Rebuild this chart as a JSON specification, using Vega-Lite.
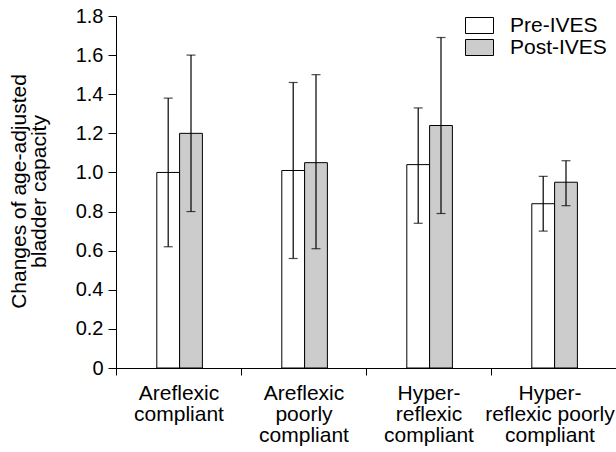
{
  "$schema": "https://vega.github.io/schema/vega-lite/v6.json",
  "width": 500,
  "height": 352,
  "autosize": {"type": "none"},
  "padding": {"left": 116, "top": 16, "right": 0, "bottom": 84},
  "background": "white",
  "config": {
    "view": {"stroke": null},
    "font": "Liberation Sans",
    "axis": {"domainColor": "black", "tickColor": "black", "labelColor": "black", "titleColor": "black", "grid": false}
  },
  "data": {
    "values": [
      {"group": "Areflexic|compliant", "phase": "Pre-IVES", "mean": 1.00, "lo": 0.62, "hi": 1.38},
      {"group": "Areflexic|compliant", "phase": "Post-IVES", "mean": 1.20, "lo": 0.80, "hi": 1.60},
      {"group": "Areflexic|poorly|compliant", "phase": "Pre-IVES", "mean": 1.01, "lo": 0.56, "hi": 1.46},
      {"group": "Areflexic|poorly|compliant", "phase": "Post-IVES", "mean": 1.05, "lo": 0.61, "hi": 1.50},
      {"group": "Hyper-|reflexic|compliant", "phase": "Pre-IVES", "mean": 1.04, "lo": 0.74, "hi": 1.33},
      {"group": "Hyper-|reflexic|compliant", "phase": "Post-IVES", "mean": 1.24, "lo": 0.79, "hi": 1.69},
      {"group": "Hyper-|reflexic poorly|compliant", "phase": "Pre-IVES", "mean": 0.84, "lo": 0.70, "hi": 0.98},
      {"group": "Hyper-|reflexic poorly|compliant", "phase": "Post-IVES", "mean": 0.95, "lo": 0.83, "hi": 1.06}
    ]
  },
  "encoding": {
    "x": {
      "field": "group", "type": "nominal", "sort": null,
      "scale": {"paddingInner": 0, "paddingOuter": 0},
      "axis": {
        "title": null, "labelAngle": 0, "labelExpr": "split(datum.label, '|')",
        "labelFontSize": 21, "labelLineHeight": 21, "labelPadding": 7,
        "labelOffset": {"condition": {"test": "datum.value == 'Hyper-|reflexic poorly|compliant'", "value": -4}, "value": 0},
        "tickBand": "extent", "tickSize": 7, "labelOverlap": false, "labelBound": false,
        "labelBaseline": "top"
      }
    },
    "xOffset": {
      "field": "phase", "type": "nominal", "sort": ["Pre-IVES", "Post-IVES"],
      "scale": {"paddingInner": 0, "paddingOuter": 0, "range": [40.8, 86.4]}
    }
  },
  "layer": [
    {
      "mark": {"type": "bar", "stroke": "black", "strokeWidth": 1},
      "encoding": {
        "y": {
          "field": "mean", "type": "quantitative",
          "scale": {"domain": [0, 1.8], "nice": false},
          "axis": {
            "title": ["Changes of age-adjusted", "bladder capacity"],
            "titleFontSize": 21, "titleFontWeight": "normal", "titleLineHeight": 20,
            "titlePadding": 26, "titleY": 175,
            "values": [0, 0.2, 0.4, 0.6, 0.8, 1.0, 1.2, 1.4, 1.6, 1.8],
            "labelExpr": "datum.value === 0 ? '0' : format(datum.value, '.1f')",
            "labelFontSize": 20, "tickSize": 8, "labelPadding": 5, "labelOverlap": false
          }
        },
        "fill": {
          "field": "phase", "type": "nominal",
          "scale": {"domain": ["Pre-IVES", "Post-IVES"], "range": ["#ffffff", "#cccccc"]},
          "legend": {
            "title": null, "orient": "none", "legendX": 353, "legendY": -1,
            "symbolType": "M-1.75,-1L1.75,-1L1.75,1L-1.75,1Z", "symbolSize": 256,
            "symbolStrokeColor": "black", "symbolStrokeWidth": 1,
            "labelFontSize": 21, "labelColor": "black", "labelOffset": 20,
            "rowPadding": 0, "padding": 0
          }
        }
      }
    },
    {
      "mark": {"type": "rule", "color": "black", "strokeWidth": 1.2},
      "encoding": {
        "y": {
          "field": "lo", "type": "quantitative",
          "axis": {
            "title": ["Changes of age-adjusted", "bladder capacity"],
            "titleFontSize": 21, "titleFontWeight": "normal", "titleLineHeight": 20,
            "titlePadding": 26, "titleY": 175,
            "values": [0, 0.2, 0.4, 0.6, 0.8, 1.0, 1.2, 1.4, 1.6, 1.8],
            "labelExpr": "datum.value === 0 ? '0' : format(datum.value, '.1f')",
            "labelFontSize": 20, "tickSize": 8, "labelPadding": 5, "labelOverlap": false
          }
        },
        "y2": {"field": "hi"}
      }
    },
    {
      "mark": {"type": "tick", "color": "black", "thickness": 1.2, "size": 9, "orient": "horizontal"},
      "encoding": {
        "y": {
          "field": "lo", "type": "quantitative",
          "axis": {
            "title": ["Changes of age-adjusted", "bladder capacity"],
            "titleFontSize": 21, "titleFontWeight": "normal", "titleLineHeight": 20,
            "titlePadding": 26, "titleY": 175,
            "values": [0, 0.2, 0.4, 0.6, 0.8, 1.0, 1.2, 1.4, 1.6, 1.8],
            "labelExpr": "datum.value === 0 ? '0' : format(datum.value, '.1f')",
            "labelFontSize": 20, "tickSize": 8, "labelPadding": 5, "labelOverlap": false
          }
        }
      }
    },
    {
      "mark": {"type": "tick", "color": "black", "thickness": 1.2, "size": 9, "orient": "horizontal"},
      "encoding": {
        "y": {
          "field": "hi", "type": "quantitative",
          "axis": {
            "title": ["Changes of age-adjusted", "bladder capacity"],
            "titleFontSize": 21, "titleFontWeight": "normal", "titleLineHeight": 20,
            "titlePadding": 26, "titleY": 175,
            "values": [0, 0.2, 0.4, 0.6, 0.8, 1.0, 1.2, 1.4, 1.6, 1.8],
            "labelExpr": "datum.value === 0 ? '0' : format(datum.value, '.1f')",
            "labelFontSize": 20, "tickSize": 8, "labelPadding": 5, "labelOverlap": false
          }
        }
      }
    }
  ]
}
